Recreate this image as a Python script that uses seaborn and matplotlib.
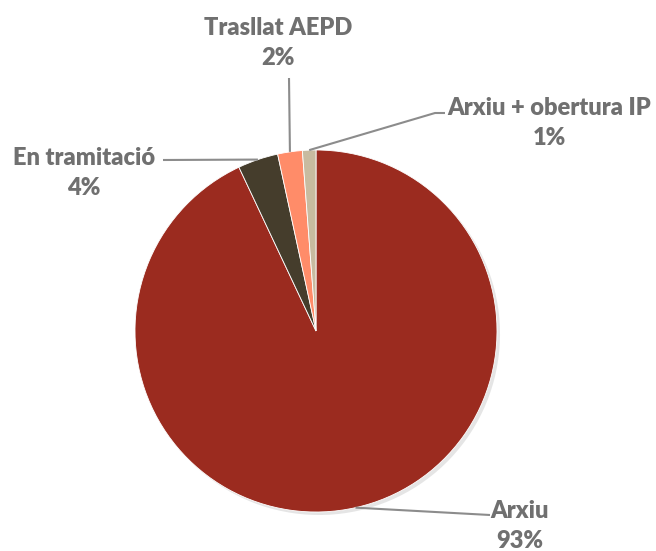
import numpy as np
import seaborn as sns
import matplotlib
matplotlib.use('Agg')
import matplotlib.pyplot as plt

categories = ["Arxiu", "En tramitació", "Trasllat AEPD", "Arxiu + obertura IP"]
values = [93.0, 3.6, 2.2, 1.2]
pct_labels = ["93%", "4%", "2%", "1%"]
colors = ["#9B2B1F", "#453D2C", "#FF8C69", "#C8BBA0"]

sns.set_theme(style="white")
plt.rcParams['font.family'] = ['Lato', 'DejaVu Sans']

fig = plt.figure(figsize=(6.56, 5.51), dpi=100)
ax = fig.add_axes([0, 0, 1, 1])
wedges, _ = ax.pie(values, colors=sns.color_palette(colors), startangle=90,
                   counterclock=False, radius=1.0,
                   wedgeprops=dict(linewidth=0.6, edgecolor="white"),
                   shadow={'ox': 0.012, 'oy': -0.012, 'facecolor': '#999999',
                           'edgecolor': 'none', 'alpha': 0.25})
ax.set_xlim(-316 / 181, 340 / 181)
ax.set_ylim(-220 / 181, 331 / 181)
ax.set_aspect('equal')
ax.axis('off')

# label placement (pixel positions converted to data units)
def px(x, y):
    return ((x - 316) / 181, (331 - y) / 181)

# text anchor, elbow points
label_layout = [
    (px(520, 526), [px(490, 515)]),
    (px(84, 173), [px(163, 160)]),
    (px(278, 43), [px(289, 78)]),
    (px(549, 123), [px(435, 113), px(445, 113)]),
]

txt_color = "#707070"
line_color = "#8C8C8C"
for w, name, pct, (tpos, elbows) in zip(wedges, categories, pct_labels, label_layout):
    mid = np.deg2rad((w.theta1 + w.theta2) / 2)
    start = (np.cos(mid), np.sin(mid))
    pts = [start] + elbows
    xs = [p[0] for p in pts]
    ys = [p[1] for p in pts]
    ax.plot(xs, ys, color=line_color, lw=1.5, solid_capstyle='butt')
    ax.text(tpos[0], tpos[1], name + "\n" + pct, ha='center', va='center',
            fontsize=17, fontweight='heavy', color=txt_color, linespacing=1.45)

fig.savefig("out.png", dpi=100)
